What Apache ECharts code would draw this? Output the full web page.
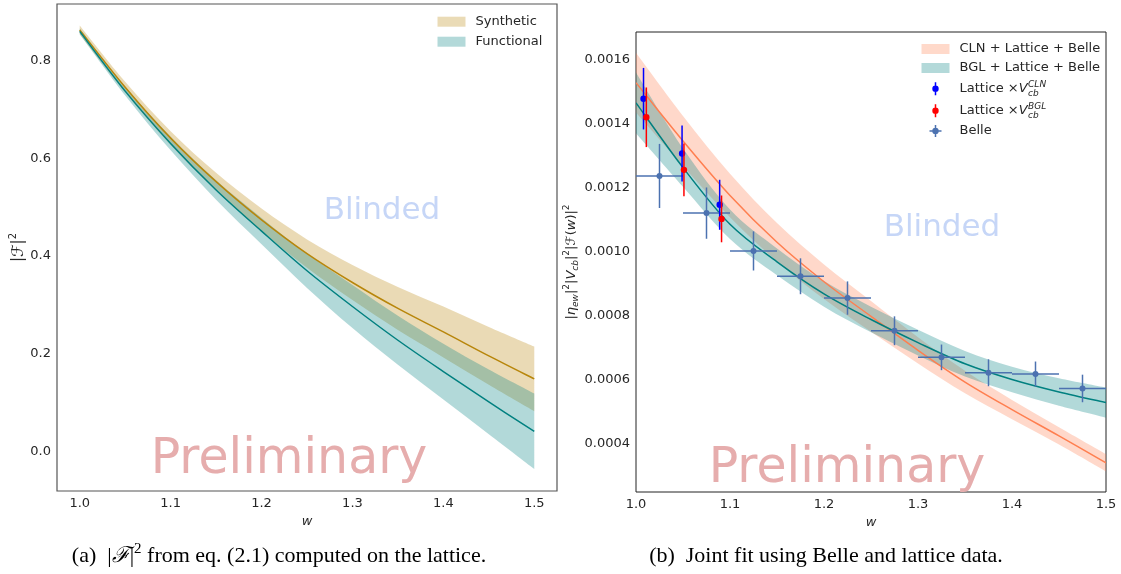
<!DOCTYPE html>
<html><head><meta charset="utf-8">
<script src="https://cdn.jsdelivr.net/npm/echarts@6/dist/echarts.min.js"></script>
<style>html,body{margin:0;padding:0;background:#fff}#c{width:1121px;height:574px}</style>
</head><body><div id="c"></div>
<script>
// ---------- data ----------
const wGrid = [1.0, 1.05, 1.1, 1.15, 1.2, 1.25, 1.3, 1.35, 1.4, 1.45, 1.5];
// panel (a)
const synthCenter = [0.862, 0.745, 0.641, 0.552, 0.474, 0.405, 0.346, 0.293, 0.245, 0.196, 0.149];
const synthErr    = [0.009, 0.011, 0.014, 0.018, 0.023, 0.029, 0.036, 0.044, 0.052, 0.059, 0.066];
const funcCenter  = [0.859, 0.737, 0.630, 0.535, 0.451, 0.370, 0.297, 0.228, 0.164, 0.102, 0.042];
const funcErr     = [0.006, 0.009, 0.014, 0.020, 0.027, 0.035, 0.044, 0.050, 0.057, 0.066, 0.077];
// panel (b)
const clnCenter = [0.001527, 0.001345, 0.001175, 0.001029, 0.000906, 0.000798, 0.000692, 0.000593, 0.000507, 0.000425, 0.000341];
const clnErr    = [0.000093, 0.000078, 0.000068, 0.000060, 0.000054, 0.000048, 0.000041, 0.000035, 0.000030, 0.000027, 0.000027];
const bglCenter = [0.001464, 0.001262, 0.001085, 0.000968, 0.000868, 0.000788, 0.000716, 0.000650, 0.000601, 0.000562, 0.000529];
const bglErr    = [0.000095, 0.000060, 0.000046, 0.000042, 0.000040, 0.000040, 0.000040, 0.000040, 0.000040, 0.000043, 0.000047];
const belleW    = [1.025, 1.075, 1.125, 1.175, 1.225, 1.275, 1.325, 1.375, 1.425, 1.475];
const belleWErr = [0.025, 0.025, 0.025, 0.025, 0.025, 0.025, 0.025, 0.025, 0.025, 0.025];
const belleV    = [0.001236, 0.001120, 0.001002, 0.000923, 0.000855, 0.000753, 0.000670, 0.000622, 0.000618, 0.000573];
const belleErr  = [0.000100, 0.000080, 0.000061, 0.000056, 0.000052, 0.000045, 0.000040, 0.000042, 0.000039, 0.000043];
const latClnW   = [1.008, 1.049, 1.089];
const latClnV   = [0.001477, 0.001306, 0.001146];
const latClnErr = [0.000096, 0.000087, 0.000078];
const latBglW   = [1.011, 1.051, 1.091];
const latBglV   = [0.001419, 0.001255, 0.001102];
const latBglErr = [0.000093, 0.000082, 0.000073];
const xTicks = [1.0, 1.1, 1.2, 1.3, 1.4, 1.5];

// ---------- helpers ----------
const FONT = 'DejaVu Sans';
const TXT = '#262626';
const isMult = (v, s) => Math.abs(v / s - Math.round(v / s)) < 1e-6;
const mctx = document.createElement('canvas').getContext('2d');
function tw(text, font) { mctx.font = font; return mctx.measureText(text).width; }

// smooth curve (Catmull-Rom as cubic Bezier) through pixel points
function spline(pts, first) {
  let d = (first ? 'M' : 'L') + pts[0][0] + ',' + pts[0][1];
  for (let i = 0; i < pts.length - 1; i++) {
    const p0 = pts[i - 1] || pts[i], p1 = pts[i], p2 = pts[i + 1], p3 = pts[i + 2] || pts[i + 1];
    d += ' C' + (p1[0] + (p2[0] - p0[0]) / 6) + ',' + (p1[1] + (p2[1] - p0[1]) / 6) + ' ' +
         (p2[0] - (p3[0] - p1[0]) / 6) + ',' + (p2[1] - (p3[1] - p1[1]) / 6) + ' ' + p2[0] + ',' + p2[1];
  }
  return d;
}
function band(name, ax, center, err, color, z) {
  return { type: 'custom', name, xAxisIndex: ax, yAxisIndex: ax, z, silent: true, clip: true,
    data: [[wGrid[0], center[0]]], encode: { x: 0, y: 1 }, itemStyle: { color },
    renderItem(params, api) {
      const up = wGrid.map((w, i) => api.coord([w, center[i] + err[i]]));
      const lo = wGrid.map((w, i) => api.coord([w, center[i] - err[i]])).reverse();
      return { type: 'path', shape: { pathData: spline(up, true) + ' ' + spline(lo, false) + ' Z' },
        style: { fill: color, stroke: null } };
    } };
}
function centerLine(name, ax, vals, color, z) {
  return { type: 'custom', name, xAxisIndex: ax, yAxisIndex: ax, z, silent: true, clip: true,
    data: [[wGrid[0], vals[0]]], encode: { x: 0, y: 1 }, itemStyle: { color },
    renderItem(params, api) {
      const pts = wGrid.map((w, i) => api.coord([w, vals[i]]));
      return { type: 'path', shape: { pathData: spline(pts, true) },
        style: { fill: null, stroke: color, lineWidth: 1.5 } };
    } };
}
function errSeries(name, xs, ys, yerr, xerr, color, r) {
  return { type: 'custom', name, xAxisIndex: 1, yAxisIndex: 1, z: 6, clip: true,
    data: xs.map((x, i) => [x, ys[i], yerr[i], xerr ? xerr[i] : 0]),
    encode: { x: 0, y: 1 }, itemStyle: { color },
    renderItem(params, api) {
      const x = api.value(0), y = api.value(1), ey = api.value(2), ex = api.value(3);
      const c = api.coord([x, y]), t = api.coord([x, y + ey]), b = api.coord([x, y - ey]);
      const ch = [{ type: 'line', shape: { x1: c[0], y1: t[1], x2: c[0], y2: b[1] }, style: { stroke: color, lineWidth: 1.5 } }];
      if (ex) {
        const l = api.coord([x - ex, y]), rr = api.coord([x + ex, y]);
        ch.push({ type: 'line', shape: { x1: l[0], y1: c[1], x2: rr[0], y2: c[1] }, style: { stroke: color, lineWidth: 1.5 } });
      }
      ch.push({ type: 'circle', shape: { cx: c[0], cy: c[1], r }, style: { fill: color } });
      return { type: 'group', children: ch };
    } };
}

// colours
const TAN = 'rgba(184,134,11,0.3)', TEAL = 'rgba(0,128,128,0.3)', CORAL = 'rgba(255,127,80,0.3)';
const TAN_S = '#eadbb6', TEAL_S = '#b3d9d9', CORAL_S = '#ffd9ca';
const TANL = '#b8860b', TEALL = '#008080', CORALL = '#ff7f50', BELLE = '#4c72b0';

// legend icons (28x14 box)
const ICON_LAT = 'path://M0,0h0.01v0.01h-0.01z M13.25,0.5h1.5v13h-1.5z M10.8,7a3.2,3.2 0 1,1 6.4,0a3.2,3.2 0 1,1 -6.4,0z M27.99,13.99h0.01v0.01h-0.01z';
const ICON_BELLE = 'path://M0,0h0.01v0.01h-0.01z M13.25,1h1.5v12h-1.5z M8,6.25h12v1.5h-12z M10.8,7a3.2,3.2 0 1,1 6.4,0a3.2,3.2 0 1,1 -6.4,0z M27.99,13.99h0.01v0.01h-0.01z';

const richBase = {
  t: { fontSize: 13, fontFamily: FONT, color: TXT, lineHeight: 14, padding: [0, 0, 0, 5] },
  v: { fontSize: 13, fontFamily: FONT, color: TXT, lineHeight: 14, fontStyle: 'italic' }
};
function leg(name, color, icon, left, cy, itemH, fmt) {
  return { data: [{ name, icon, itemStyle: { color, borderWidth: 0 } }], left, top: cy - 7, orient: 'vertical',
    padding: 0, itemGap: 0, itemWidth: 28, itemHeight: itemH, selectedMode: false,
    formatter: fmt || (n => '{t|' + n + '}'),
    textStyle: { fontSize: 13, fontFamily: FONT, color: TXT, lineHeight: 14, rich: richBase } };
}

// legend rows
const LX_A = 437.5, LX_B = 921.5;
const rowsB = [49, 68, 88.7, 110.8, 131];
const latFmt = () => '{t|Lattice ×}{v|V}';
const supX = LX_B + 28 + 5 + 5 + tw('Lattice ×', '13px "DejaVu Sans"') + tw('V', 'italic 13px "DejaVu Sans"') + 0.5;

const yNameB = '{n||}{i|η}{s|ew}{n||}{p|2}{n||}{i|V}{s|cb}{n||}{p|2}{n||}{i|ℱ}{n|(}{i|w}{n|)|}{p|2}';
const yRich = {
  n: { fontSize: 13, fontFamily: FONT, color: TXT, lineHeight: 18 },
  i: { fontSize: 13, fontFamily: FONT, color: TXT, lineHeight: 18, fontStyle: 'italic' },
  s: { fontSize: 9, fontFamily: FONT, color: TXT, lineHeight: 10, fontStyle: 'italic', verticalAlign: 'bottom' },
  p: { fontSize: 9, fontFamily: FONT, color: TXT, lineHeight: 10, verticalAlign: 'top' }
};
const yRichA = {
  n: { fontSize: 15, fontFamily: FONT, color: TXT, lineHeight: 20 },
  i: { fontSize: 16, fontFamily: FONT, color: TXT, lineHeight: 20, fontStyle: 'italic' },
  p: { fontSize: 10, fontFamily: FONT, color: TXT, lineHeight: 10, verticalAlign: 'top' }
};

function xAxis(grid, min, max, extra) {
  return Object.assign({ type: 'value', gridIndex: grid, min, max,
    axisLine: { show: false }, axisTick: { show: false }, splitLine: { show: false },
    axisLabel: { margin: 6, fontSize: 13, fontFamily: FONT, color: TXT,
      formatter: v => xTicks.some(t => Math.abs(t - v) < 1e-6) ? v.toFixed(1) : '' },
    name: 'w', nameLocation: 'middle', nameGap: 21,
    nameTextStyle: { fontStyle: 'italic', fontSize: 13, fontFamily: FONT, color: TXT } }, extra || {});
}

const capRich = {
  t: { fontSize: 22, fontFamily: 'Liberation Serif', color: '#111', lineHeight: 28 },
  s: { fontSize: 22, fontFamily: 'DejaVu Serif', fontStyle: 'italic', color: '#111', lineHeight: 28 },
  p: { fontSize: 15, fontFamily: 'Liberation Serif', color: '#111', lineHeight: 15, verticalAlign: 'top' },
  b: { fontSize: 22, fontFamily: 'Liberation Serif', color: '#3c3cc0', lineHeight: 28 }
};

const option = {
  animation: false,
  textStyle: { fontFamily: FONT },
  grid: [
    { left: 57, top: 4, width: 500, height: 487, show: true, borderColor: '#555', borderWidth: 1.2, backgroundColor: 'transparent' },
    { left: 636, top: 32, width: 470, height: 460, show: true, borderColor: '#222', borderWidth: 1, backgroundColor: 'transparent' }
  ],
  xAxis: [ xAxis(0, 0.975, 1.525, { splitNumber: 5 }), xAxis(1, 1.0, 1.5, { interval: 0.1, nameGap: 20 }) ],
  yAxis: [
    { type: 'value', gridIndex: 0, min: -0.08, max: 0.915, splitNumber: 5,
      axisLine: { show: false }, axisTick: { show: false }, splitLine: { show: false },
      axisLabel: { margin: 6, fontSize: 13, fontFamily: FONT, color: TXT, formatter: v => isMult(v, 0.2) ? v.toFixed(1) : '' },
      name: '{n||}{i|ℱ}{n||}{p|2}', nameLocation: 'middle', nameGap: 28, nameTextStyle: { rich: yRichA } },
    { type: 'value', gridIndex: 1, min: 0.00025, max: 0.001685, splitNumber: 7,
      axisLine: { show: false }, axisTick: { show: false }, splitLine: { show: false },
      axisLabel: { margin: 6, fontSize: 13, fontFamily: FONT, color: TXT, formatter: v => isMult(v, 0.0002) ? v.toFixed(4) : '' },
      name: yNameB, nameLocation: 'middle', nameGap: 47, nameTextStyle: { rich: yRich } }
  ],
  legend: [
    leg('Synthetic', TAN_S, 'rect', LX_A, 21.7, 10),
    leg('Functional', TEAL_S, 'rect', LX_A, 41.7, 10),
    leg('CLN + Lattice + Belle', CORAL_S, 'rect', LX_B, rowsB[0], 10),
    leg('BGL + Lattice + Belle', TEAL_S, 'rect', LX_B, rowsB[1], 10),
    leg('Lattice CLN', '#0000ff', ICON_LAT, LX_B, rowsB[2], 14, latFmt),
    leg('Lattice BGL', '#ff0000', ICON_LAT, LX_B, rowsB[3], 14, latFmt),
    leg('Belle', BELLE, ICON_BELLE, LX_B, rowsB[4], 14)
  ],
  series: [
    band('Synthetic', 0, synthCenter, synthErr, TAN, 1),
    band('Functional', 0, funcCenter, funcErr, TEAL, 1),
    centerLine('Synthetic line', 0, synthCenter, TANL, 3),
    centerLine('Functional line', 0, funcCenter, TEALL, 3),
    band('CLN + Lattice + Belle', 1, clnCenter, clnErr, CORAL, 1),
    band('BGL + Lattice + Belle', 1, bglCenter, bglErr, TEAL, 1),
    centerLine('CLN line', 1, clnCenter, CORALL, 3),
    centerLine('BGL line', 1, bglCenter, TEALL, 3),
    errSeries('Belle', belleW, belleV, belleErr, belleWErr, BELLE, 3),
    errSeries('Lattice CLN', latClnW, latClnV, latClnErr, null, '#0000ff', 3.2),
    errSeries('Lattice BGL', latBglW, latBglV, latBglErr, null, '#ff0000', 3.2)
  ],
  graphic: [
    { type: 'text', x: 382, y: 211, z: 100, silent: true, style: { text: 'Blinded', fill: '#c6d6f7', font: '31px "DejaVu Sans"', align: 'center', verticalAlign: 'middle' } },
    { type: 'text', x: 942, y: 228, z: 100, silent: true, style: { text: 'Blinded', fill: '#c6d6f7', font: '31px "DejaVu Sans"', align: 'center', verticalAlign: 'middle' } },
    { type: 'text', x: 289, y: 460, z: 100, silent: true, style: { text: 'Preliminary', fill: '#e6adad', font: '49px "DejaVu Sans"', align: 'center', verticalAlign: 'middle' } },
    { type: 'text', x: 847, y: 469, z: 100, silent: true, style: { text: 'Preliminary', fill: '#e6adad', font: '49px "DejaVu Sans"', align: 'center', verticalAlign: 'middle' } },
    { type: 'text', x: supX, y: rowsB[2] - 4.5, z: 100, silent: true, style: { text: 'CLN', fill: TXT, font: 'italic 9px "DejaVu Sans"', align: 'left', verticalAlign: 'middle' } },
    { type: 'text', x: supX, y: rowsB[2] + 4.8, z: 100, silent: true, style: { text: 'cb', fill: TXT, font: 'italic 9px "DejaVu Sans"', align: 'left', verticalAlign: 'middle' } },
    { type: 'text', x: supX, y: rowsB[3] - 4.5, z: 100, silent: true, style: { text: 'BGL', fill: TXT, font: 'italic 9px "DejaVu Sans"', align: 'left', verticalAlign: 'middle' } },
    { type: 'text', x: supX, y: rowsB[3] + 4.8, z: 100, silent: true, style: { text: 'cb', fill: TXT, font: 'italic 9px "DejaVu Sans"', align: 'left', verticalAlign: 'middle' } },
    { type: 'text', x: 279, y: 556, z: 100, silent: true, style: {
      text: '{t|(a)  |}{s|ℱ}{t||}{p|2}{t| from eq. (}{b|2.1}{t|) computed on the lattice.}',
      rich: capRich, align: 'center', verticalAlign: 'middle' } },
    { type: 'text', x: 826, y: 556, z: 100, silent: true, style: {
      text: '{t|(b)  Joint fit using Belle and lattice data.}',
      rich: capRich, align: 'center', verticalAlign: 'middle' } }
  ]
};
const chart = echarts.init(document.getElementById('c'), null, { renderer: 'canvas' });
chart.setOption(option);
</script>
</body></html>
